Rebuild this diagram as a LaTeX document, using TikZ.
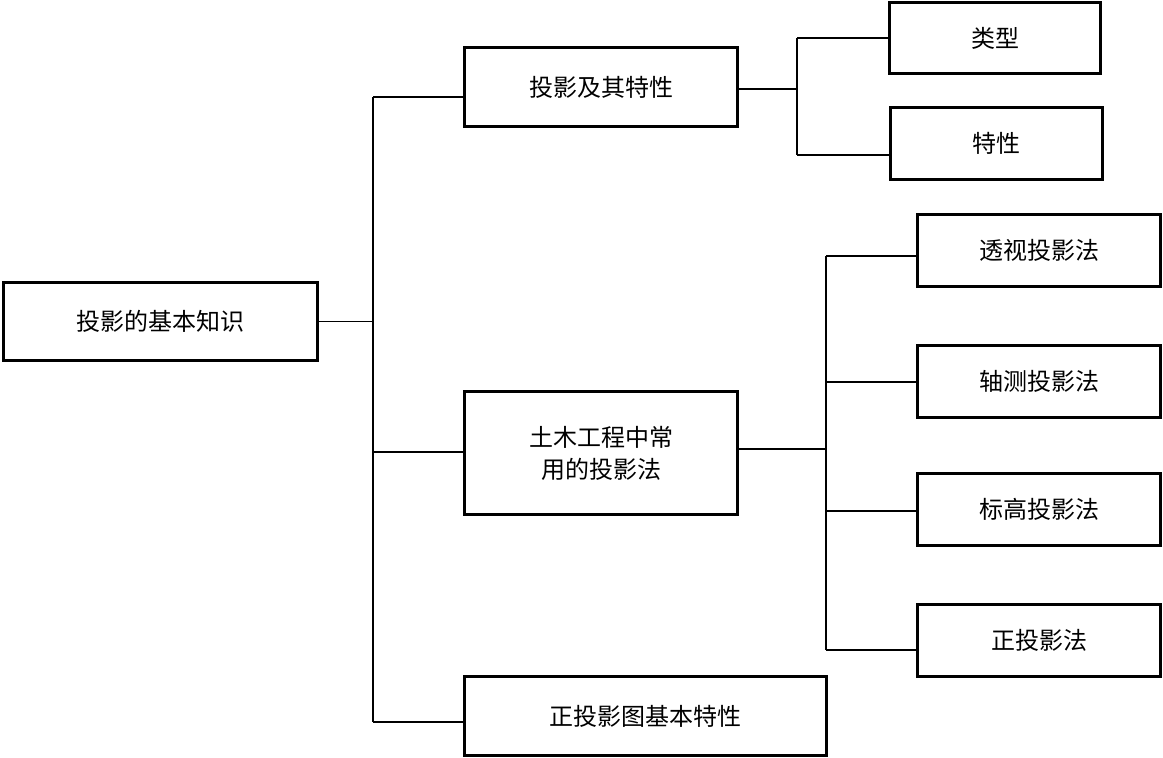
\documentclass[tikz,border=0pt]{standalone}
\usepackage{fontspec}
\newfontfamily\cjk{Noto Sans CJK SC}
\begin{document}
\begin{tikzpicture}[x=1pt,y=-1pt,
 box/.style={draw,line width=2.8pt,align=center,inner sep=0pt,font=\cjk\fontsize{24}{32}\selectfont},
 link/.style={line width=1.4pt}]
\useasboundingbox (0,0) rectangle (1163,758);
% boxes
\node[box,minimum width=314pt,minimum height=78pt] (root) at (160.5,321.5) {投影的基本知识};
\node[box,minimum width=273pt,minimum height=79pt] (prop) at (601,87) {投影及其特性};
\node[box,minimum width=273pt,minimum height=123pt] (method) at (601,453) {土木工程中常\\用的投影法};
\node[box,minimum width=362pt,minimum height=79pt] (ortho) at (645.5,716) {正投影图基本特性};
\node[box,minimum width=211pt,minimum height=71pt] (kind) at (995,38) {类型};
\node[box,minimum width=212pt,minimum height=72pt] (feat) at (996.5,143.5) {特性};
\foreach \n/\y/\t in {persp/250.5/透视投影法,axon/381.5/轴测投影法,elev/509.5/标高投影法,proj/640.5/正投影法}
  \node[box,minimum width=243pt,minimum height=72pt] (\n) at (1039,\y) {\t};
% connectors
\coordinate (j0) at (373,321.5);
\coordinate (j0t) at (373,97);
\coordinate (j0b) at (373,722);
\draw[link] (root.east) -- (j0);
\draw[link] (j0t) -- (j0b);
\draw[link] (j0t) -- (j0t -| prop.west);
\draw[link] (j0 |- 0,452) -- (method.west |- 0,452);
\draw[link] (j0b) -- (j0b -| ortho.west);
\coordinate (j1) at (797,89);
\draw[link] (prop.east |- j1) -- (j1);
\draw[link] (j1 |- 0,38) -- (j1 |- 0,155);
\draw[link] (j1 |- 0,38) -- (kind.west |- 0,38);
\draw[link] (j1 |- 0,155) -- (feat.west |- 0,155);
\coordinate (j2) at (826,449);
\draw[link] (method.east |- j2) -- (j2);
\draw[link] (j2 |- 0,256) -- (j2 |- 0,650);
\foreach \n/\y in {persp/256,axon/382,elev/511,proj/650}
  \draw[link] (j2 |- 0,\y) -- (\n.west |- 0,\y);
\end{tikzpicture}
\end{document}
